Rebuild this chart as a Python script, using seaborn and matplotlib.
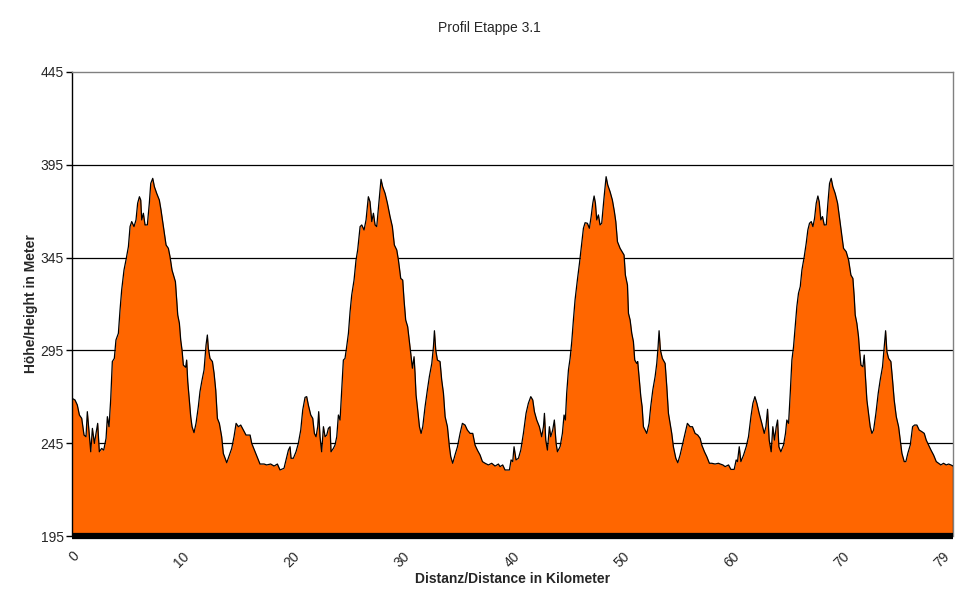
import numpy as np
import pandas as pd
import matplotlib
matplotlib.use("Agg")
import matplotlib.pyplot as plt
import seaborn as sns

# elevation profile, (km, m), four stretches
lap1 = [(0.0, 269.2), (0.27, 268.3), (0.48, 265.6), (0.67, 260.2), (0.88, 258.4), (1.09, 249.4),
        (1.27, 248.5), (1.39, 262.0), (1.51, 253.9), (1.70, 240.4), (1.85, 253.0), (2.03, 244.9),
        (2.18, 250.3), (2.33, 255.7), (2.48, 240.4), (2.69, 242.2), (2.88, 241.3), (3.09, 247.6),
        (3.21, 259.3), (3.36, 253.9), (3.51, 268.3), (3.66, 289.0), (3.84, 290.7), (3.99, 300.6),
        (4.21, 304.2), (4.36, 316.8), (4.51, 327.6), (4.72, 338.3), (4.90, 343.7), (5.12, 350.9),
        (5.27, 361.7), (5.42, 364.4), (5.63, 361.7), (5.81, 365.3), (5.96, 374.3), (6.12, 377.8),
        (6.24, 376.0), (6.33, 365.3), (6.48, 368.9), (6.63, 362.6), (6.84, 362.6), (7.02, 374.3),
        (7.15, 385.0), (7.33, 387.7), (7.48, 383.2), (7.69, 379.6), (7.93, 376.0), (8.08, 370.7),
        (8.30, 361.7), (8.54, 351.8), (8.75, 350.0), (8.90, 345.5), (9.08, 338.3), (9.26, 334.7),
        (9.39, 332.0), (9.51, 322.2), (9.60, 314.1), (9.75, 309.6), (9.87, 300.6), (9.99, 295.2),
        (10.11, 287.1), (10.32, 285.9), (10.41, 289.8), (10.51, 278.2), (10.63, 270.1), (10.78, 259.3),
        (10.90, 253.9), (11.08, 250.7), (11.26, 255.7), (11.47, 264.7), (11.62, 272.8), (11.78, 278.2),
        (11.99, 284.5), (12.17, 297.9), (12.29, 303.3), (12.38, 296.1), (12.53, 290.7), (12.75, 289.0),
        (12.90, 282.7), (13.05, 273.7), (13.20, 258.4), (13.38, 255.7), (13.59, 248.5), (13.74, 239.5),
        (14.05, 234.5), (14.29, 238.6), (14.50, 242.2), (14.71, 248.5), (14.90, 255.7), (15.11, 253.9),
        (15.32, 254.8), (15.56, 252.1), (15.80, 249.4), (16.02, 249.4), (16.17, 249.4), (16.32, 244.9),
        (16.62, 240.4), (16.92, 235.9), (17.07, 233.8), (17.44, 233.8), (17.68, 233.3), (18.04, 233.8),
        (18.35, 232.7), (18.65, 233.8)]

lap2 = [(18.89, 230.6), (19.25, 231.5), (19.43, 236.0), (19.65, 241.3), (19.80, 243.1), (19.89, 236.9),
        (20.10, 236.9), (20.34, 240.4), (20.55, 244.9), (20.77, 252.1), (20.95, 262.9), (21.16, 269.7),
        (21.31, 270.1), (21.46, 265.6), (21.68, 260.2), (21.86, 258.4), (22.01, 250.3), (22.16, 248.5),
        (22.31, 253.9), (22.40, 262.0), (22.52, 248.5), (22.67, 240.4), (22.83, 253.9), (22.98, 248.5),
        (23.13, 249.4), (23.28, 253.0), (23.43, 253.9), (23.52, 240.4), (23.73, 242.2), (23.88, 244.0),
        (24.04, 248.5), (24.19, 260.2), (24.34, 257.5), (24.49, 273.7), (24.64, 289.8), (24.79, 290.7),
        (24.94, 297.0), (25.10, 304.2), (25.25, 315.9), (25.40, 324.9), (25.61, 332.9), (25.79, 343.7),
        (25.94, 349.1), (26.16, 361.7), (26.31, 362.6), (26.52, 359.9), (26.70, 365.3), (26.91, 377.8),
        (27.06, 375.1), (27.22, 364.4), (27.37, 368.9), (27.52, 362.6), (27.67, 361.7), (27.88, 375.1),
        (28.06, 387.2), (28.21, 383.2), (28.43, 379.6), (28.64, 374.3), (28.88, 367.1), (29.09, 361.7),
        (29.27, 351.8), (29.49, 349.1), (29.64, 343.7), (29.85, 333.8), (30.03, 332.9), (30.15, 322.2),
        (30.30, 311.4), (30.48, 307.8), (30.64, 299.7), (30.76, 293.4), (30.91, 285.4), (31.06, 291.6),
        (31.15, 282.7), (31.24, 271.0), (31.36, 264.7), (31.55, 253.9), (31.70, 250.3), (31.85, 253.9),
        (32.06, 264.7), (32.27, 273.7), (32.45, 280.9), (32.67, 288.0), (32.82, 297.0), (32.91, 305.6),
        (33.03, 295.2), (33.18, 289.8), (33.42, 289.0), (33.57, 279.1), (33.73, 271.9), (33.88, 259.3),
        (34.09, 253.9), (34.27, 243.1), (34.39, 237.8), (34.57, 234.2), (34.78, 238.7), (35.00, 243.1),
        (35.24, 250.3), (35.45, 255.7), (35.69, 254.8), (35.90, 252.1), (36.15, 250.3), (36.39, 250.3),
        (36.60, 244.0), (36.81, 241.3), (37.05, 238.7), (37.27, 235.1), (37.51, 234.2), (37.81, 233.3),
        (38.11, 234.2), (38.42, 232.7), (38.72, 233.8)]

lap3 = [(38.87, 232.4), (39.11, 233.3), (39.32, 230.6), (39.72, 230.6), (39.87, 236.0), (40.02, 235.1),
        (40.14, 243.1), (40.32, 236.0), (40.54, 236.9), (40.75, 241.3), (40.99, 250.3), (41.23, 261.1),
        (41.44, 266.5), (41.66, 270.1), (41.84, 268.3), (41.99, 262.0), (42.20, 257.5), (42.44, 253.9),
        (42.65, 248.5), (42.81, 253.9), (42.90, 261.1), (43.02, 246.7), (43.17, 241.3), (43.35, 253.9),
        (43.47, 248.5), (43.65, 252.1), (43.80, 257.5), (43.96, 244.9), (44.08, 240.4), (44.32, 243.1),
        (44.53, 250.3), (44.68, 260.2), (44.80, 257.5), (44.92, 271.9), (45.08, 284.5), (45.23, 290.7),
        (45.38, 299.7), (45.53, 311.4), (45.68, 322.2), (45.89, 332.9), (46.08, 341.9), (46.23, 350.0),
        (46.44, 360.8), (46.59, 363.8), (46.80, 363.5), (46.98, 360.8), (47.14, 367.1), (47.29, 374.3),
        (47.41, 378.2), (47.53, 374.3), (47.65, 365.3), (47.80, 368.0), (47.95, 362.6), (48.10, 363.5),
        (48.32, 377.8), (48.50, 388.6), (48.65, 384.1), (48.86, 380.5), (49.07, 376.0), (49.25, 369.8),
        (49.38, 364.4), (49.53, 353.6), (49.77, 350.0), (49.95, 348.2), (50.13, 346.4), (50.25, 335.6),
        (50.44, 330.2), (50.53, 315.0), (50.68, 311.4), (50.83, 304.2), (50.98, 299.7), (51.10, 289.8),
        (51.28, 288.0), (51.37, 289.0), (51.52, 279.1), (51.65, 270.1), (51.77, 264.7), (51.89, 253.9),
        (52.04, 252.1), (52.19, 250.3), (52.40, 255.7), (52.55, 264.7), (52.74, 273.7), (52.95, 280.9),
        (53.10, 288.0), (53.22, 297.0), (53.31, 305.6), (53.43, 295.2), (53.61, 290.7), (53.86, 288.0),
        (54.01, 275.5), (54.16, 261.1), (54.31, 255.7), (54.46, 250.3), (54.61, 243.1), (54.83, 236.9),
        (55.01, 234.5), (55.22, 238.7), (55.46, 244.9), (55.67, 250.3), (55.88, 255.7), (56.13, 253.9),
        (56.34, 253.9), (56.58, 250.3), (56.82, 249.4), (57.04, 247.6), (57.19, 244.0), (57.43, 240.4),
        (57.64, 237.8), (57.88, 234.2), (58.09, 234.2), (58.40, 233.8), (58.70, 234.2)]

lap4 = [(58.86, 233.8), (59.10, 233.3), (59.31, 232.4), (59.62, 233.3), (59.83, 230.9), (60.13, 230.9),
        (60.31, 236.0), (60.43, 235.1), (60.59, 243.1), (60.74, 235.1), (60.98, 238.6), (61.22, 243.1),
        (61.43, 248.5), (61.65, 259.3), (61.83, 266.5), (62.01, 270.1), (62.19, 266.5), (62.40, 261.1),
        (62.64, 255.7), (62.86, 250.3), (63.01, 253.9), (63.16, 263.3), (63.31, 246.7), (63.49, 240.4),
        (63.64, 253.9), (63.79, 246.7), (63.95, 253.9), (64.07, 257.5), (64.19, 243.1), (64.37, 240.4),
        (64.61, 244.0), (64.79, 250.3), (64.91, 257.5), (65.07, 255.7), (65.22, 271.9), (65.37, 289.8),
        (65.52, 297.0), (65.67, 307.8), (65.82, 318.6), (65.97, 325.8), (66.13, 329.4), (66.28, 338.3),
        (66.49, 345.5), (66.67, 352.7), (66.82, 359.9), (66.97, 363.5), (67.13, 364.4), (67.28, 361.7),
        (67.43, 366.2), (67.58, 374.3), (67.73, 378.2), (67.85, 375.1), (68.00, 365.3), (68.15, 367.1),
        (68.31, 362.6), (68.49, 362.6), (68.64, 374.3), (68.79, 385.0), (68.94, 387.7), (69.09, 383.2),
        (69.30, 379.6), (69.52, 374.3), (69.70, 366.2), (69.91, 356.3), (70.06, 350.0), (70.30, 348.2),
        (70.52, 343.7), (70.73, 335.6), (70.91, 333.8), (71.03, 324.0), (71.12, 314.1), (71.27, 309.6),
        (71.42, 302.4), (71.51, 295.2), (71.64, 287.1), (71.82, 286.2), (71.94, 292.5), (72.03, 282.7),
        (72.18, 268.3), (72.33, 261.1), (72.48, 253.9), (72.64, 250.3), (72.79, 252.1), (73.00, 261.1),
        (73.21, 271.9), (73.39, 279.1), (73.60, 286.2), (73.76, 297.0), (73.88, 305.6), (74.00, 294.3),
        (74.15, 290.7), (74.36, 289.0), (74.51, 279.1), (74.66, 268.3), (74.85, 259.3), (75.06, 253.9),
        (75.21, 246.7), (75.36, 239.6), (75.57, 235.1), (75.72, 235.1), (75.90, 239.6), (76.12, 244.0),
        (76.33, 253.9), (76.51, 254.8), (76.72, 254.8), (76.93, 252.1), (77.18, 251.2), (77.39, 250.3),
        (77.57, 246.7), (77.78, 244.0), (78.00, 241.3), (78.24, 238.6), (78.48, 235.1), (78.69, 234.2),
        (78.90, 233.3), (79.14, 234.2), (79.39, 233.3), (79.60, 233.8), (79.81, 233.3), (80.0, 232.7)]

y_ticks = [195, 245, 295, 345, 395, 445]
x_ticks = [0, 10, 20, 30, 40, 50, 60, 70, 79]

df = pd.DataFrame(lap1 + lap2 + lap3 + lap4, columns=["km", "hoehe"])

sns.set_style("white")
plt.rcParams["font.family"] = ["Liberation Sans", "DejaVu Sans"]

fig = plt.figure(figsize=(9.68, 6.05), dpi=100)
ax = fig.add_axes([0.0744, 0.114, 0.9101, 0.767])

# horizontal grid lines
for yv in y_ticks[1:-1]:
    ax.axhline(yv, color="black", lw=0.9, zorder=1)

ax.fill_between(df["km"], 195, df["hoehe"], color="#FF6600", lw=0, zorder=2)
sns.lineplot(data=df, x="km", y="hoehe", color="black", lw=0.9, ax=ax, zorder=3,
             estimator=None, sort=False)
ax.plot([80, 80], [195, df["hoehe"].iloc[-1]], color="black", lw=0.9, zorder=3)

ax.set_xlim(0, 80)
ax.set_ylim(195, 445)
ax.set_yticks(y_ticks)
ax.set_xticks(x_ticks)
ax.set_xticklabels([str(t) for t in x_ticks], rotation=45, ha="right", va="top",
                   rotation_mode="anchor")
ax.tick_params(axis="y", left=True, length=4, width=1, color="black", labelsize=10, pad=2)
ax.tick_params(axis="x", bottom=False, labelsize=10, pad=6)

for side in ["top", "right"]:
    ax.spines[side].set_color("#808080")
    ax.spines[side].set_linewidth(1)
ax.spines["left"].set_color("black")
ax.spines["left"].set_linewidth(1)
ax.spines["bottom"].set_color("black")
ax.spines["bottom"].set_linewidth(4.5)
ax.spines["bottom"].set_capstyle("butt")

fig.text(0.506, 0.953, "Profil Etappe 3.1", fontsize=10, ha="center", va="center")
ax.set_xlabel("Distanz/Distance in Kilometer", fontsize=10, fontweight="bold", labelpad=1)
ax.set_ylabel("Höhe/Height in Meter", fontsize=10, fontweight="bold", labelpad=2)

fig.savefig("out.png", dpi=100)
